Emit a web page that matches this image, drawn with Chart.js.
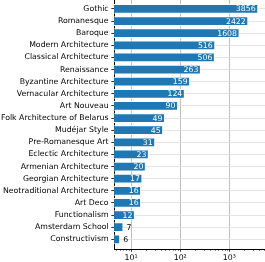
<!DOCTYPE html>
<html>
<head>
<meta charset="utf-8">
<script src="https://cdn.jsdelivr.net/npm/chart.js@4/dist/chart.umd.min.js"></script>
<style>
  html, body { margin: 0; padding: 0; background: #fff; }
  canvas { display: block; }
</style>
</head>
<body>
<canvas id="chart" width="265" height="262" style="width:265px;height:262px"></canvas>
<script>
// Styles, from most to least common
const styles = [
  "Gothic", "Romanesque", "Baroque", "Modern Architecture", "Classical Architecture",
  "Renaissance", "Byzantine Architecture", "Vernacular Architecture", "Art Nouveau",
  "Folk Architecture of Belarus", "Mudéjar Style", "Pre-Romanesque Art",
  "Eclectic Architecture", "Armenian Architecture", "Georgian Architecture",
  "Neotraditional Architecture", "Art Deco", "Functionalism", "Amsterdam School",
  "Constructivism"
];
const counts = [3856, 2422, 1608, 516, 506, 263, 159, 124, 90, 49, 45, 31, 23, 20, 17, 16, 16, 12, 7, 6];
const xTicks = [10, 100, 1000];
const xTickLabels = ["10\u00b9", "10\u00b2", "10\u00b3"];

const font = { family: "DejaVu Sans", size: 7.8 };

// value labels at the end of each bar
const barLabels = {
  id: "barLabels",
  afterDatasetsDraw(chart) {
    const ctx = chart.ctx;
    const meta = chart.getDatasetMeta(0);
    ctx.save();
    ctx.font = "7.8px 'DejaVu Sans'";
    ctx.textBaseline = "middle";
    meta.data.forEach((bar, i) => {
      const v = counts[i];
      if (v >= 10) {
        ctx.fillStyle = "#fff";
        ctx.textAlign = "right";
        ctx.fillText(String(v), bar.x - 2.5, bar.y + 0.5);
      } else {
        ctx.fillStyle = "#000";
        ctx.textAlign = "left";
        ctx.fillText(String(v), bar.x + 3, bar.y + 0.5);
      }
    });
    ctx.restore();
  },
};

// small minor ticks on the log axis
const minorTicks = {
  id: "minorTicks",
  afterDraw(chart) {
    const sx = chart.scales.x;
    const ctx = chart.ctx;
    const y0 = chart.chartArea.bottom;
    ctx.save();
    ctx.strokeStyle = "#000";
    ctx.lineWidth = 0.8;
    for (let d = 1; d <= 1000; d *= 10) {
      for (let m = 2; m <= 9; m++) {
        const v = d * m;
        if (v < sx.min || v > sx.max) continue;
        const px = Math.round(sx.getPixelForValue(v)) + 0.5;
        ctx.beginPath();
        ctx.moveTo(px, y0);
        ctx.lineTo(px, y0 + 1.6);
        ctx.stroke();
      }
    }
    ctx.restore();
  },
};

const noPad = (s) => { s.paddingTop = 0; s.paddingBottom = 0; s.paddingLeft = 0; s.paddingRight = 0; };

new Chart(document.getElementById("chart"), {
  type: "bar",
  data: {
    datasets: [{
      data: counts.map((v, i) => ({ x: v, y: i })),
      backgroundColor: "#1f77b4",
      borderColor: "#ffffff",
      borderWidth: 1,
      barPercentage: 0.8,
      categoryPercentage: 1,
    }],
  },
  options: {
    indexAxis: "y",
    responsive: false,
    animation: false,
    layout: { padding: 0 },
    plugins: { legend: { display: false }, tooltip: { enabled: false } },
    scales: {
      x: {
        type: "logarithmic",
        min: 4.5,
        max: 5300,
        afterBuildTicks: (s) => { s.ticks = xTicks.map((v) => ({ value: v })); },
        afterFit: (s) => { s.height = 13; noPad(s); },
        ticks: {
          font,
          color: "#000",
          padding: 2,
          maxRotation: 0,
          autoSkip: false,
          callback: (v) => xTickLabels[xTicks.indexOf(v)] || "",
        },
        grid: { color: "#b0b0b0", tickColor: "#000", tickLength: 2.7, lineWidth: 0.8 },
        border: { color: "#000", width: 1 },
      },
      y: {
        type: "linear",
        reverse: true,
        offset: false,
        min: -0.74,
        max: 19.8,
        afterBuildTicks: (s) => { s.ticks = counts.map((_, i) => ({ value: i })); },
        afterFit: (s) => { s.width = 114; noPad(s); },
        ticks: {
          font,
          color: "#000",
          padding: 2.7,
          autoSkip: false,
          callback: (v) => styles[v] || "",
        },
        grid: { offset: false, color: "#dddddd", tickColor: "#000", tickLength: 2.7, lineWidth: 0.8 },
        border: { color: "#000", width: 1 },
      },
    },
  },
  plugins: [barLabels, minorTicks],
});
</script>
</body>
</html>
